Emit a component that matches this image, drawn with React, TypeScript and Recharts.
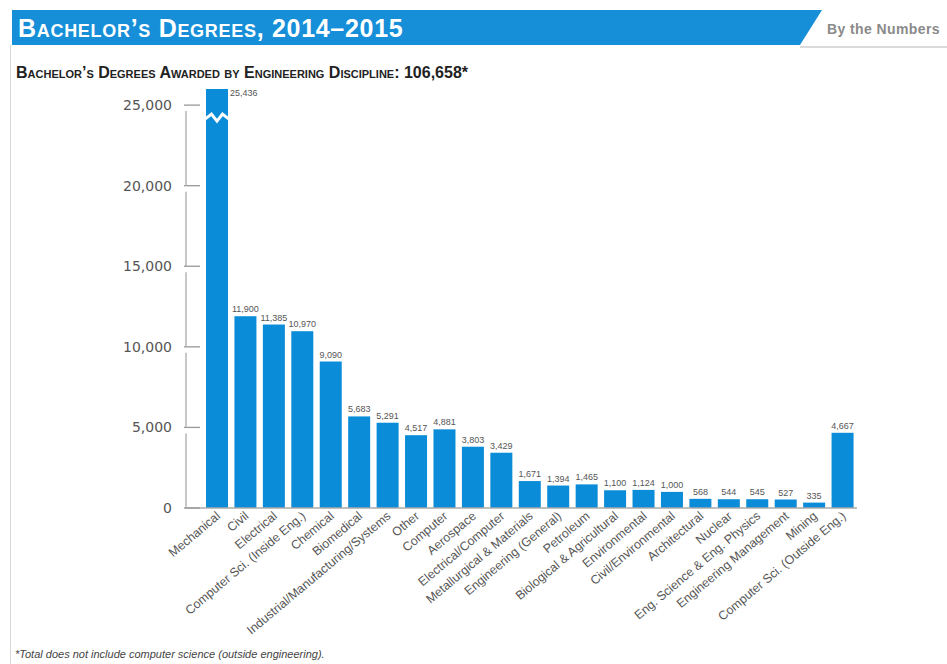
import React from "react";
import { BarChart, Bar, XAxis, YAxis, LabelList } from "recharts";

const categories = [
  "Mechanical",
  "Civil",
  "Electrical",
  "Computer Sci. (Inside Eng.)",
  "Chemical",
  "Biomedical",
  "Industrial/Manufacturing/Systems",
  "Other",
  "Computer",
  "Aerospace",
  "Electrical/Computer",
  "Metallurgical & Materials",
  "Engineering (General)",
  "Petroleum",
  "Biological & Agricultural",
  "Environmental",
  "Civil/Environmental",
  "Architectural",
  "Nuclear",
  "Eng. Science & Eng. Physics",
  "Engineering Management",
  "Mining",
  "Computer Sci. (Outside Eng.)",
];

const degrees = [
  25436, 11900, 11385, 10970, 9090, 5683, 5291, 4517, 4881, 3803, 3429, 1671,
  1394, 1465, 1100, 1124, 1000, 568, 544, 545, 527, 335, 4667,
];

const yTicks = [0, 5000, 10000, 15000, 20000, 25000];
const yMax = 26000;
const axisBreakValue = 25000;

const data = categories.map((name, i) => ({ name, value: degrees[i] }));

const BLUE = "#0b8cd8";
const W = 947;
const H = 664;
const M = { top: 89, right: 90, bottom: 0, left: 0 };
const Y_AXIS_W = 185;
const X_AXIS_H = 156;
const plotH = H - M.top - M.bottom - X_AXIS_H;
const tickStep = (plotH * 5000) / yMax;

const fmt = (v: number) => v.toLocaleString("en-US");

const YTick = (props: any) => {
  const { x, y, payload } = props;
  const v = payload.value;
  return (
    <g>
      <text
        x={x}
        y={y}
        dy="0.36em"
        textAnchor="end"
        fill="#555"
        fontSize={14}
        fontFamily="DejaVu Sans, sans-serif"
      >
        {fmt(v)}
      </text>
      <line x1={x + 12} x2={x + 28} y1={y} y2={y} stroke="#999" strokeWidth={1.3} />
      {v > 0 && (
        <line x1={x + 14} x2={x + 14} y1={y + 6} y2={y + tickStep} stroke="#aaa" strokeWidth={1.3} />
      )}
    </g>
  );
};

const XTick = (props: any) => {
  const { x, y, payload } = props;
  return (
    <g transform={`translate(${x + 1},${y + 4})`}>
      <text
        x={0}
        y={0}
        dy="0.35em"
        textAnchor="end"
        transform="rotate(-40)"
        fill="#555"
        fontSize={12.4}
        fontFamily="Liberation Sans, Arial, sans-serif"
      >
        {payload.value}
      </text>
    </g>
  );
};

const BarShape = (props: any) => {
  const { x, y, width, height, background, value } = props;
  const v = Array.isArray(value) ? value[1] : value;
  if (v > axisBreakValue && background) {
    const bottom = y + height;
    const top = background.y;
    const ppu = height / v;
    const by = bottom - axisBreakValue * ppu + 13;
    const pts = [
      [x - 1, by + 1],
      [x + width * 0.25, by - 4],
      [x + width * 0.5, by + 3],
      [x + width * 0.75, by - 4],
      [x + width + 1, by + 1],
    ]
      .map((p) => p.join(","))
      .join(" ");
    return (
      <g>
        <rect x={x} y={top} width={width} height={bottom - top} fill={BLUE} />
        <polyline points={pts} fill="none" stroke="#fff" strokeWidth={3} />
      </g>
    );
  }
  return <rect x={x} y={y} width={width} height={height} fill={BLUE} />;
};

const ValueLabel = (props: any) => {
  const { x, y, width, value, index } = props;
  if (value > axisBreakValue) {
    return (
      <text
        x={x + width + 2}
        y={y - 2}
        fill="#555"
        fontSize={9}
        fontFamily="Liberation Sans, Arial, sans-serif"
      >
        {fmt(value)}
      </text>
    );
  }
  return (
    <text
      x={x + width / 2}
      y={y - 4}
      textAnchor="middle"
      fill="#555"
      fontSize={9}
      fontFamily="Liberation Sans, Arial, sans-serif"
      key={index}
    >
      {fmt(value)}
    </text>
  );
};

export default function App() {
  return (
    <div
      style={{
        position: "absolute",
        left: 0,
        top: 0,
        width: W,
        height: H,
        background: "#fff",
        overflow: "hidden",
        fontFamily: "Liberation Sans, Arial, sans-serif",
      }}
    >
      <svg width={W} height={60} style={{ position: "absolute", left: 0, top: 0 }}>
        <polygon points="12,10 822,10 800,45 12,45" fill="#168fd8" />
        <line x1={800} x2={947} y1={47} y2={47} stroke="#b5b5b5" strokeWidth={1} />
      </svg>
      <div
        style={{
          position: "absolute",
          left: 10,
          top: 45,
          width: 1,
          height: H - 45,
          background: "#d8d8d8",
        }}
      />
      <div
        style={{
          position: "absolute",
          left: 18,
          top: 13,
          color: "#fff",
          fontWeight: "bold",
          fontSize: 25,
          fontVariant: "small-caps",
          whiteSpace: "nowrap",
          lineHeight: "30px",
          letterSpacing: 0.7,
        }}
      >
        Bachelor’s Degrees, 2014–2015
      </div>
      <div
        style={{
          position: "absolute",
          left: 827,
          top: 20,
          color: "#8a8a8a",
          fontWeight: "bold",
          fontSize: 14,
          whiteSpace: "nowrap",
          lineHeight: "18px",
          letterSpacing: 0.4,
        }}
      >
        By the Numbers
      </div>
      <div
        style={{
          position: "absolute",
          left: 16,
          top: 63,
          color: "#222",
          fontWeight: "bold",
          fontSize: 16,
          fontVariant: "small-caps",
          whiteSpace: "nowrap",
          lineHeight: "20px",
        }}
      >
        Bachelor’s Degrees Awarded by Engineering Discipline: 106,658*
      </div>
      <div
        style={{
          position: "absolute",
          left: 15,
          top: 648,
          color: "#444",
          fontStyle: "italic",
          fontSize: 11,
          whiteSpace: "nowrap",
          lineHeight: "13px",
        }}
      >
        *Total does not include computer science (outside engineering).
      </div>
      <div style={{ position: "absolute", left: 0, top: 0 }}>
        <BarChart width={W} height={H} data={data} margin={M} barSize={22}>
          <XAxis
            dataKey="name"
            interval={0}
            height={X_AXIS_H}
            padding={{ left: 18, right: 0 }}
            tickLine={false}
            tickSize={0}
            tickMargin={2}
            axisLine={{ stroke: "#aaa", strokeWidth: 1.3 }}
            tick={<XTick />}
          />
          <YAxis
            width={Y_AXIS_W}
            domain={[0, yMax]}
            ticks={yTicks}
            interval={0}
            axisLine={false}
            tickLine={false}
            tickSize={0}
            tickMargin={13}
            tick={<YTick />}
          />
          <Bar dataKey="value" shape={<BarShape />} isAnimationActive={false}>
            <LabelList dataKey="value" content={<ValueLabel />} />
          </Bar>
        </BarChart>
      </div>
    </div>
  );
}
